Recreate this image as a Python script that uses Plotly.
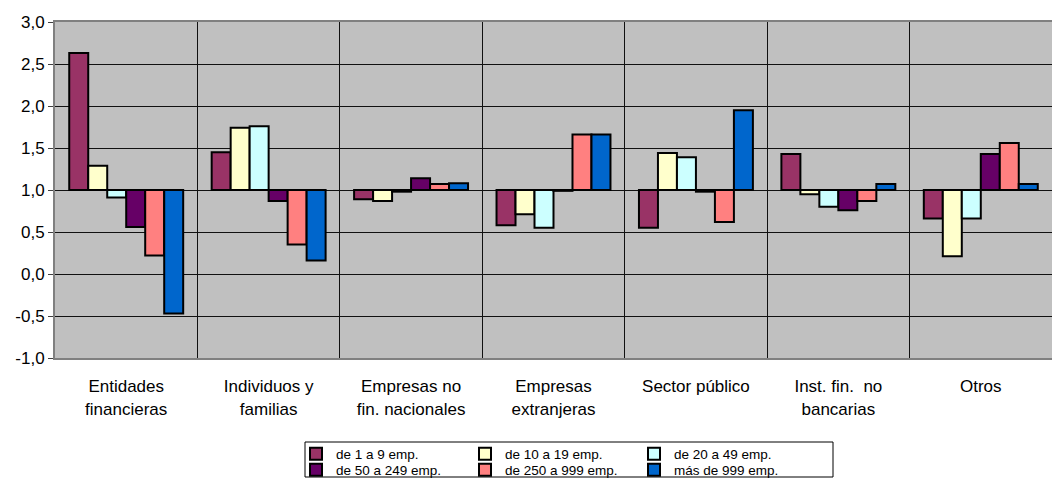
import plotly.graph_objects as go

categories = [
    "Entidades<br>financieras",
    "Individuos y<br>familias",
    "Empresas no<br>fin. nacionales",
    "Empresas<br>extranjeras",
    "Sector público",
    "Inst. fin.  no<br>bancarias",
    "Otros",
]
series_names = [
    "de 1 a 9 emp.",
    "de 10 a 19 emp.",
    "de 20 a 49 emp.",
    "de 50 a 249 emp.",
    "de 250 a 999 emp.",
    "más de 999 emp.",
]
emp_1_9 = [2.63, 1.45, 0.89, 0.58, 0.55, 1.43, 0.66]
emp_10_19 = [1.29, 1.74, 0.87, 0.71, 1.44, 0.95, 0.21]
emp_20_49 = [0.91, 1.76, 0.98, 0.55, 1.39, 0.80, 0.66]
emp_50_249 = [0.56, 0.87, 1.14, 0.99, 0.98, 0.76, 1.43]
emp_250_999 = [0.22, 0.35, 1.07, 1.66, 0.62, 0.87, 1.56]
emp_999_mas = [-0.47, 0.16, 1.08, 1.66, 1.95, 1.07, 1.07]
base_value = 1.0

y_tick_vals = [-1.0, -0.5, 0.0, 0.5, 1.0, 1.5, 2.0, 2.5, 3.0]
y_tick_text = ["-1,0", "-0,5", "0,0", "0,5", "1,0", "1,5", "2,0", "2,5", "3,0"]

colors = ["#993366", "#FFFFCC", "#CCFFFF", "#660066", "#FF8080", "#0066CC"]
all_series = [emp_1_9, emp_10_19, emp_20_49, emp_50_249, emp_250_999, emp_999_mas]

FONT = "Liberation Sans, Arial, Helvetica, sans-serif"

fig = go.Figure()
for i, (name, vals, col) in enumerate(zip(series_names, all_series, colors)):
    fig.add_trace(go.Bar(
        x=categories,
        y=[v - base_value for v in vals],
        base=base_value,
        name=name,
        marker=dict(color=col, line=dict(color="black", width=2)),
        legend="legend" if i < 3 else "legend2",
    ))

W, H = 1052, 479
ml, mr, mt, mb = 55, 0, 22, 121
pw, ph = W - ml - mr, H - mt - mb

def px_to_paper_x(px):
    return (px - ml) / pw

def px_to_paper_y(py):
    return (H - mb - py) / ph

legend_common = dict(
    orientation="h",
    xref="container", yref="container",
    xanchor="left", yanchor="middle",
    x=296 / W,
    entrywidth=124, entrywidthmode="pixels",
    font=dict(family=FONT, size=13.5, color="black"),
    bgcolor="rgba(0,0,0,0)", borderwidth=0,
    itemwidth=30, tracegroupgap=0,
)

fig.update_layout(
    width=W, height=H,
    margin=dict(l=ml, r=mr, t=mt, b=mb, autoexpand=False),
    paper_bgcolor="white",
    plot_bgcolor="#C0C0C0",
    barmode="group",
    bargap=0.2,
    bargroupgap=0,
    font=dict(family=FONT, size=17, color="black"),
    showlegend=True,
    legend=dict(**legend_common, y=1 - 454 / H),
    legend2=dict(**legend_common, y=1 - 470 / H),
    xaxis=dict(
        type="category",
        tickson="boundaries",
        showgrid=True, gridcolor="#111111", gridwidth=1,
        ticks="",
        showline=True, linecolor="#808080", linewidth=2, mirror=True,
        tickfont=dict(family=FONT, size=17, color="black"),
        ticklabelstandoff=12,
    ),
    yaxis=dict(
        range=[-1.0, 3.0],
        tickvals=y_tick_vals, ticktext=y_tick_text,
        showgrid=True, gridcolor="#111111", gridwidth=1,
        zeroline=False,
        ticks="outside", ticklen=5, tickcolor="#404040",
        showline=True, linecolor="#808080", linewidth=2, mirror=True,
        tickfont=dict(family=FONT, size=17, color="black"),
    ),
    shapes=[dict(
        type="rect", xref="paper", yref="paper",
        x0=px_to_paper_x(305), x1=px_to_paper_x(833),
        y0=px_to_paper_y(442), y1=px_to_paper_y(477),
        line=dict(color="black", width=1), fillcolor="rgba(0,0,0,0)",
        layer="above",
    )],
)

fig.write_html(
    "out.html",
    config={"displayModeBar": False},
    post_script="document.body.style.margin='0px';",
)
